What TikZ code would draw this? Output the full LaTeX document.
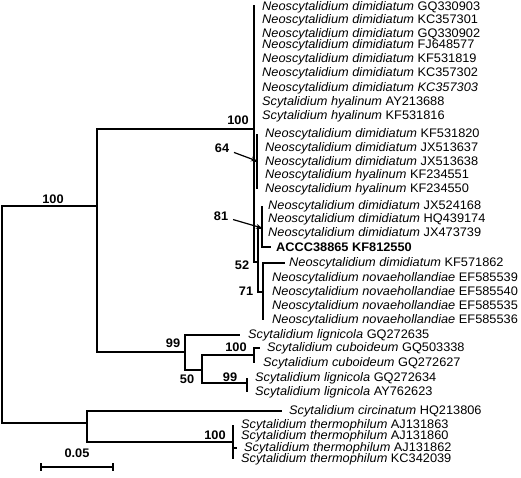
\documentclass[tikz,border=0pt]{standalone}
\usepackage{fontspec}
\newfontfamily\treefont{Liberation Sans}[FakeStretch=1.03]
\usetikzlibrary{arrows.meta, positioning}

\begin{document}
\begin{tikzpicture}[
    x=1pt, y=-1pt,
    node distance=7pt,
    branch/.style={line width=1.6pt},
    leaf/.style={anchor=west, inner sep=0pt, font=\treefont\fontsize{12.4}{13}\selectfont},
    boot/.style={inner sep=0pt, font=\treefont\bfseries\fontsize{12.4}{13}\selectfont},
    pointer/.style={-{Stealth[length=6pt, width=5pt]}, line width=1.2pt, shorten <=5pt}
]
\useasboundingbox (0,0) rectangle (521,478);

% internal nodes
\coordinate (root) at (2,314);
\coordinate (nA) at (97,206);
\coordinate (nB) at (254,129);
\coordinate (n64) at (257,161);
\coordinate (n52) at (258,262);
\coordinate (n81) at (262,228);
\coordinate (n71) at (263,292);
\coordinate (nC) at (185,352);
\coordinate (nD) at (202,370);
\coordinate (nE) at (254,355);
\coordinate (nF) at (247,383);
\coordinate (nG) at (87,423);
\coordinate (nH) at (233,442);

% tips
\coordinate (t1) at (254,7);
\coordinate (t2) at (254,20);
\coordinate (t3) at (254,34);
\coordinate (t4) at (254,45);
\coordinate (t5) at (254,59);
\coordinate (t6) at (254,73);
\coordinate (t7) at (254,88);
\coordinate (t8) at (254,102);
\coordinate (t9) at (254,116);
\coordinate (t10) at (257,134);
\coordinate (t11) at (257,148);
\coordinate (t12) at (257,162);
\coordinate (t13) at (257,175);
\coordinate (t14) at (257,189);
\coordinate (t15) at (262,206);
\coordinate (t16) at (262,219);
\coordinate (t17) at (262,233);
\coordinate (t18) at (271,247);
\coordinate (t19) at (285,263);
\coordinate (t20) at (263,278);
\coordinate (t21) at (263,292);
\coordinate (t22) at (263,306);
\coordinate (t23) at (263,320);
\coordinate (t24) at (240,335);
\coordinate (t25) at (260,348);
\coordinate (t26) at (254,363);
\coordinate (t27) at (247,378);
\coordinate (t28) at (247,392);
\coordinate (t29) at (282,411);
\coordinate (t30) at (233,425);
\coordinate (t31) at (233,436);
\coordinate (t32) at (237,448);
\coordinate (t33) at (233,459);

% leaf labels
\node[leaf, right=8pt of t1] (l1) {\itshape Neoscytalidium dimidiatum \upshape GQ330903};
\node[leaf, right=8pt of t2] (l2) {\itshape Neoscytalidium dimidiatum \upshape KC357301};
\node[leaf, right=8pt of t3] (l3) {\itshape Neoscytalidium dimidiatum \upshape GQ330902};
\node[leaf, right=8pt of t4] (l4) {\itshape Neoscytalidium dimidiatum \upshape FJ648577};
\node[leaf, right=8pt of t5] (l5) {\itshape Neoscytalidium dimidiatum \upshape KF531819};
\node[leaf, right=8pt of t6] (l6) {\itshape Neoscytalidium dimidiatum \upshape KC357302};
\node[leaf, right=8pt of t7] (l7) {\itshape Neoscytalidium dimidiatum KC357303};
\node[leaf, right=8pt of t8] (l8) {\itshape Scytalidium hyalinum \upshape AY213688};
\node[leaf, right=8pt of t9] (l9) {\itshape Scytalidium hyalinum \upshape KF531816};
\node[leaf, right=8pt of t10] (l10) {\itshape Neoscytalidium dimidiatum \upshape KF531820};
\node[leaf, right=8pt of t11] (l11) {\itshape Neoscytalidium dimidiatum \upshape JX513637};
\node[leaf, right=8pt of t12] (l12) {\itshape Neoscytalidium dimidiatum \upshape JX513638};
\node[leaf, right=8pt of t13] (l13) {\itshape Neoscytalidium hyalinum \upshape KF234551};
\node[leaf, right=8pt of t14] (l14) {\itshape Neoscytalidium hyalinum \upshape KF234550};
\node[leaf, right=6pt of t15] (l15) {\itshape Neoscytalidium dimidiatum \upshape JX524168};
\node[leaf, right=6pt of t16] (l16) {\itshape Neoscytalidium dimidiatum \upshape HQ439174};
\node[leaf, right=6pt of t17] (l17) {\itshape Neoscytalidium dimidiatum \upshape JX473739};
\node[leaf, right=5pt of t18, font=\treefont\bfseries\fontsize{12.4}{13}\selectfont] (l18) {ACCC38865 KF812550};
\node[leaf, right=4pt of t19] (l19) {\itshape Neoscytalidium dimidiatum \upshape KF571862};
\node[leaf, right=9pt of t20] (l20) {\itshape Neoscytalidium novaehollandiae \upshape EF585539};
\node[leaf, right=9pt of t21] (l21) {\itshape Neoscytalidium novaehollandiae \upshape EF585540};
\node[leaf, right=9pt of t22] (l22) {\itshape Neoscytalidium novaehollandiae \upshape EF585535};
\node[leaf, right=9pt of t23] (l23) {\itshape Neoscytalidium novaehollandiae \upshape EF585536};
\node[leaf, right=8pt of t24] (l24) {\itshape Scytalidium lignicola \upshape GQ272635};
\node[leaf, right=of t25] (l25) {\itshape Scytalidium cuboideum \upshape GQ503338};
\node[leaf, right=9pt of t26] (l26) {\itshape Scytalidium cuboideum \upshape GQ272627};
\node[leaf, right=8pt of t27] (l27) {\itshape Scytalidium lignicola \upshape GQ272634};
\node[leaf, right=8pt of t28] (l28) {\itshape Scytalidium lignicola \upshape AY762623};
\node[leaf, right=of t29] (l29) {\itshape Scytalidium circinatum \upshape HQ213806};
\node[leaf, right=8pt of t30] (l30) {\itshape Scytalidium thermophilum \upshape AJ131863};
\node[leaf, right=8pt of t31] (l31) {\itshape Scytalidium thermophilum \upshape AJ131860};
\node[leaf, right=of t32] (l32) {\itshape Scytalidium thermophilum \upshape AJ131862};
\node[leaf, right=8pt of t33] (l33) {\itshape Scytalidium thermophilum \upshape KC342039};

% branches
\draw[branch] (root) |- (nA) (root) |- (nG);
\draw[branch] (nA) |- (nB) (nA) |- (nC);
\draw[branch] (nB) |- ([yshift=2pt]t1) (nB) |- (t9) (nB) |- (n64) (nB) |- (n52);
\draw[branch] (n64) |- (t10) (n64) |- (t14);
\draw[branch] (n52) |- (n81) (n52) |- (n71);
\draw[branch] (n81) |- (t15) (n81) |- (t18);
\draw[branch] (n71) |- (t19) (n71) |- (t23);
\draw[branch] (nC) |- (t24) (nC) |- (nD);
\draw[branch] (nD) |- (nE) (nD) |- (nF);
\draw[branch] (nE) |- (t25) (nE) |- (t26);
\draw[branch] (nF) |- (t27) (nF) |- (t28);
\draw[branch] (nG) |- (t29) (nG) |- (nH);
\draw[branch] (nH) |- (t30) (nH) |- (t33) (nH) |- (t32);

% bootstrap values
\node[boot] (b1) at (53,199) {100};
\node[boot] (b2) at (238,120) {100};
\node[boot] (b64) at (222,148) {64};
\node[boot] (b81) at (221,216) {81};
\node[boot] (b52) at (242,265) {52};
\node[boot] (b71) at (246,291) {71};
\node[boot] (b99a) at (173,343) {99};
\node[boot] (b50) at (187,379) {50};
\node[boot] (b100c) at (236,347) {100};
\node[boot] (b99b) at (230,377) {99};
\node[boot] (b100t) at (215,435) {100};

\draw[pointer] (b64) -- (n64);
\draw[pointer] (b81) -- (n81);

% scale bar
\coordinate (s0) at (41,467);
\coordinate (s1) at (113,467);
\draw[branch] (s0) -- (s1);
\draw[branch] ([yshift=4pt]s0) -- ([yshift=-4pt]s0);
\draw[branch] ([yshift=4pt]s1) -- ([yshift=-4pt]s1);
\node[boot, above=9pt of s0, xshift=36pt] (scalelab) {0.05};
\end{tikzpicture}
\end{document}
